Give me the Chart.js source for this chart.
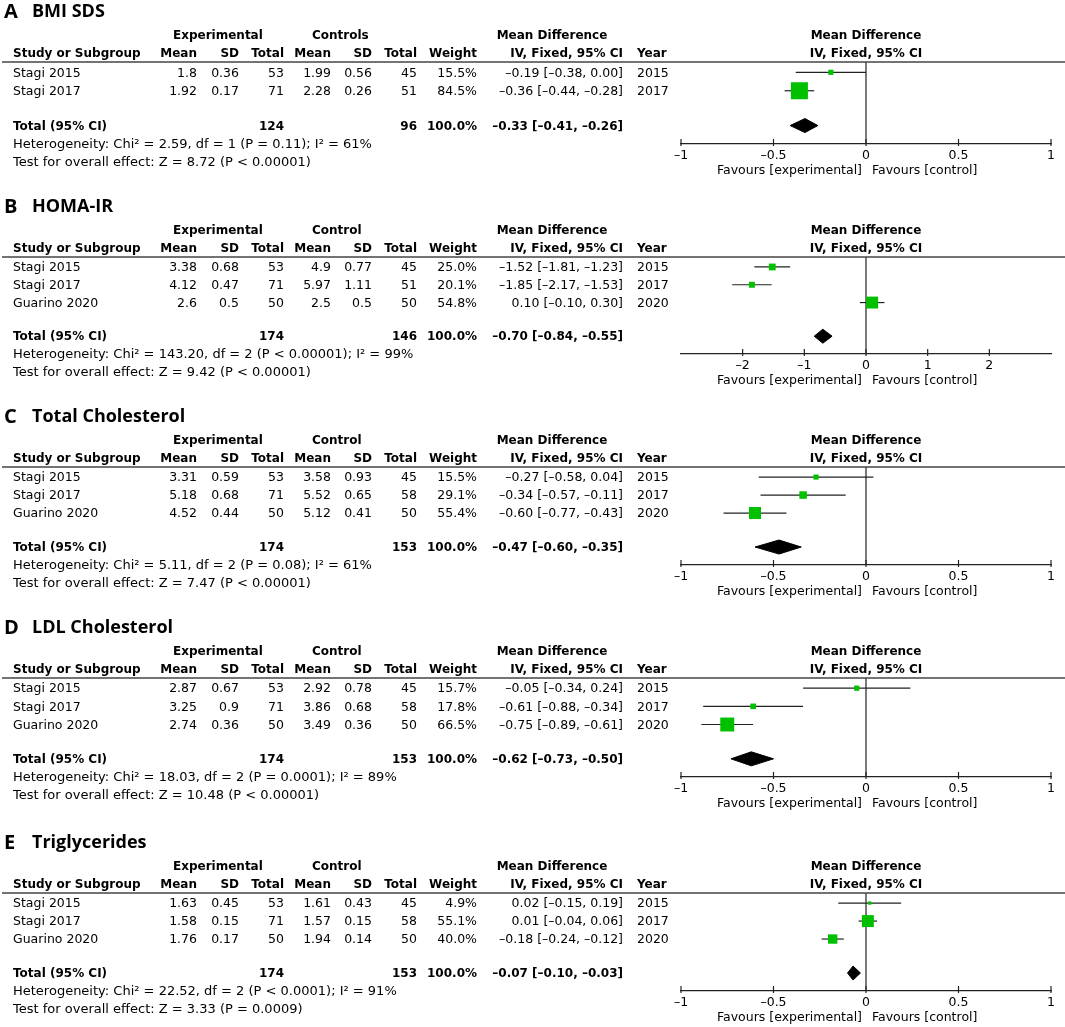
<!DOCTYPE html>
<html>
<head>
<meta charset="utf-8">
<script src="https://cdn.jsdelivr.net/npm/chart.js@4.4.1/dist/chart.umd.min.js"></script>
<style>
  body { margin: 0; background: #fff; width: 1065px; height: 1027px; position: relative; overflow: hidden; }
  canvas { position: absolute; left: 0; }
</style>
</head>
<body>
<script>
// ---- data ----
const studies2 = ['Stagi 2015', 'Stagi 2017'];
const studies3 = ['Stagi 2015', 'Stagi 2017', 'Guarino 2020'];
const years2 = [2015, 2017];
const years3 = [2015, 2017, 2020];

// A  BMI SDS
const bmiExpMean = [1.8, 1.92];
const bmiExpSD = [0.36, 0.17];
const bmiExpN = [53, 71];
const bmiCtlMean = [1.99, 2.28];
const bmiCtlSD = [0.56, 0.26];
const bmiCtlN = [45, 51];
const bmiWeight = [15.5, 84.5];
const bmiMD = [-0.19, -0.36];
const bmiLo = [-0.38, -0.44];
const bmiHi = [0.00, -0.28];
const bmiTotalN = [124, 96];
const bmiTotalMD = [-0.33, -0.41, -0.26];
const bmiHet = 'Heterogeneity: Chi² = 2.59, df = 1 (P = 0.11); I² = 61%';
const bmiTest = 'Test for overall effect: Z = 8.72 (P < 0.00001)';

// B  HOMA-IR
const homaExpMean = [3.38, 4.12, 2.6];
const homaExpSD = [0.68, 0.47, 0.5];
const homaExpN = [53, 71, 50];
const homaCtlMean = [4.9, 5.97, 2.5];
const homaCtlSD = [0.77, 1.11, 0.5];
const homaCtlN = [45, 51, 50];
const homaWeight = [25.0, 20.1, 54.8];
const homaMD = [-1.52, -1.85, 0.10];
const homaLo = [-1.81, -2.17, -0.10];
const homaHi = [-1.23, -1.53, 0.30];
const homaTotalN = [174, 146];
const homaTotalMD = [-0.70, -0.84, -0.55];
const homaHet = 'Heterogeneity: Chi² = 143.20, df = 2 (P < 0.00001); I² = 99%';
const homaTest = 'Test for overall effect: Z = 9.42 (P < 0.00001)';

// C  Total Cholesterol
const tcExpMean = [3.31, 5.18, 4.52];
const tcExpSD = [0.59, 0.68, 0.44];
const tcExpN = [53, 71, 50];
const tcCtlMean = [3.58, 5.52, 5.12];
const tcCtlSD = [0.93, 0.65, 0.41];
const tcCtlN = [45, 58, 50];
const tcWeight = [15.5, 29.1, 55.4];
const tcMD = [-0.27, -0.34, -0.60];
const tcLo = [-0.58, -0.57, -0.77];
const tcHi = [0.04, -0.11, -0.43];
const tcTotalN = [174, 153];
const tcTotalMD = [-0.47, -0.60, -0.35];
const tcHet = 'Heterogeneity: Chi² = 5.11, df = 2 (P = 0.08); I² = 61%';
const tcTest = 'Test for overall effect: Z = 7.47 (P < 0.00001)';

// D  LDL Cholesterol
const ldlExpMean = [2.87, 3.25, 2.74];
const ldlExpSD = [0.67, 0.9, 0.36];
const ldlExpN = [53, 71, 50];
const ldlCtlMean = [2.92, 3.86, 3.49];
const ldlCtlSD = [0.78, 0.68, 0.36];
const ldlCtlN = [45, 58, 50];
const ldlWeight = [15.7, 17.8, 66.5];
const ldlMD = [-0.05, -0.61, -0.75];
const ldlLo = [-0.34, -0.88, -0.89];
const ldlHi = [0.24, -0.34, -0.61];
const ldlTotalN = [174, 153];
const ldlTotalMD = [-0.62, -0.73, -0.50];
const ldlHet = 'Heterogeneity: Chi² = 18.03, df = 2 (P = 0.0001); I² = 89%';
const ldlTest = 'Test for overall effect: Z = 10.48 (P < 0.00001)';

// E  Triglycerides
const tgExpMean = [1.63, 1.58, 1.76];
const tgExpSD = [0.45, 0.15, 0.17];
const tgExpN = [53, 71, 50];
const tgCtlMean = [1.61, 1.57, 1.94];
const tgCtlSD = [0.43, 0.15, 0.14];
const tgCtlN = [45, 58, 50];
const tgWeight = [4.9, 55.1, 40.0];
const tgMD = [0.02, 0.01, -0.18];
const tgLo = [-0.15, -0.04, -0.24];
const tgHi = [0.19, 0.06, -0.12];
const tgTotalN = [174, 153];
const tgTotalMD = [-0.07, -0.10, -0.03];
const tgHet = 'Heterogeneity: Chi² = 22.52, df = 2 (P < 0.0001); I² = 91%';
const tgTest = 'Test for overall effect: Z = 3.33 (P = 0.0009)';

// axis ticks
const ticksUnit = [-1, -0.5, 0, 0.5, 1];
const ticksHoma = [-2, -1, 0, 1, 2];

// ---- layout / style ----
const INK = '#222';
const TXT = '#000';
const GREEN = '#00c000';
const FONT = '"DejaVu Sans"';
const AXH = 30;          // fixed height of the x axis box
const ROW0 = 0.56;       // first study row, in row units below the header rule
const DY = 1;            // nudge text down a touch
// column anchors (px)
const COL = { study: 13, expGroup: 173, ctlGroup: 312, expMean: 197, expSD: 239, expN: 284,
              ctlMean: 331, ctlSD: 372, ctlN: 417, weight: 477, ci: 623, ciHead: 552, year: 637 };

const panels = [
  { letter: 'A', name: 'BMI SDS', ctl: 'Controls', studies: studies2, years: years2,
    expMean: bmiExpMean, expSD: bmiExpSD, expN: bmiExpN, ctlMean: bmiCtlMean, ctlSD: bmiCtlSD, ctlN: bmiCtlN,
    weight: bmiWeight, md: bmiMD, lo: bmiLo, hi: bmiHi, totN: bmiTotalN, tot: bmiTotalMD,
    het: bmiHet, test: bmiTest, range: [-1, 1], ticks: ticksUnit, lineY: 62, axisY: 144 },
  { letter: 'B', name: 'HOMA-IR', ctl: 'Control', studies: studies3, years: years3,
    expMean: homaExpMean, expSD: homaExpSD, expN: homaExpN, ctlMean: homaCtlMean, ctlSD: homaCtlSD, ctlN: homaCtlN,
    weight: homaWeight, md: homaMD, lo: homaLo, hi: homaHi, totN: homaTotalN, tot: homaTotalMD,
    het: homaHet, test: homaTest, range: [-3, 3], ticks: ticksHoma, lineY: 257, axisY: 354 },
  { letter: 'C', name: 'Total Cholesterol', ctl: 'Control', studies: studies3, years: years3,
    expMean: tcExpMean, expSD: tcExpSD, expN: tcExpN, ctlMean: tcCtlMean, ctlSD: tcCtlSD, ctlN: tcCtlN,
    weight: tcWeight, md: tcMD, lo: tcLo, hi: tcHi, totN: tcTotalN, tot: tcTotalMD,
    het: tcHet, test: tcTest, range: [-1, 1], ticks: ticksUnit, lineY: 467, axisY: 565 },
  { letter: 'D', name: 'LDL Cholesterol', ctl: 'Control', studies: studies3, years: years3,
    expMean: ldlExpMean, expSD: ldlExpSD, expN: ldlExpN, ctlMean: ldlCtlMean, ctlSD: ldlCtlSD, ctlN: ldlCtlN,
    weight: ldlWeight, md: ldlMD, lo: ldlLo, hi: ldlHi, totN: ldlTotalN, tot: ldlTotalMD,
    het: ldlHet, test: ldlTest, range: [-1, 1], ticks: ticksUnit, lineY: 678, axisY: 777 },
  { letter: 'E', name: 'Triglycerides', ctl: 'Control', studies: studies3, years: years3,
    expMean: tgExpMean, expSD: tgExpSD, expN: tgExpN, ctlMean: tgCtlMean, ctlSD: tgCtlSD, ctlN: tgCtlN,
    weight: tgWeight, md: tgMD, lo: tgLo, hi: tgHi, totN: tgTotalN, tot: tgTotalMD,
    het: tgHet, test: tgTest, range: [-1, 1], ticks: ticksUnit, lineY: 893, axisY: 991 },
];

// ---- helpers ----
const dash = s => String(s).replace(/-/g, '\u2013');
const ciText = (m, l, h) => dash(m.toFixed(2)) + ' [' + dash(l.toFixed(2)) + ', ' + dash(h.toFixed(2)) + ']';

function put(ctx, s, x, y, align, bold, size) {
  ctx.font = (bold ? 'bold ' : '') + (size || (bold ? 12 : 12.5)) + 'px ' + FONT;
  ctx.textAlign = align;
  ctx.fillText(s, x, y + DY);
}

function tablePlugin(p) {
  return {
    id: 'table' + p.letter,
    afterDraw(chart) {
      const { ctx, chartArea: a, scales: { x, y } } = chart;
      ctx.save();
      ctx.fillStyle = TXT;
      ctx.textBaseline = 'middle';

      // panel title
      ctx.textAlign = 'left';
      ctx.font = 'bold 20px "Open Sans"';
      ctx.fillText(p.letter, 4, a.top - 50);
      ctx.font = 'bold 18px "Open Sans"';
      ctx.fillText(p.name, 32, a.top - 50);

      // column headers
      const h1 = a.top - 27, h2 = a.top - 9, mid = (a.left + a.right) / 2;
      put(ctx, 'Experimental', COL.expGroup, h1, 'left', true);
      put(ctx, p.ctl, COL.ctlGroup, h1, 'left', true);
      put(ctx, 'Mean Difference', COL.ciHead, h1, 'center', true);
      put(ctx, 'Mean Difference', mid, h1, 'center', true);
      put(ctx, 'Study or Subgroup', COL.study, h2, 'left', true);
      put(ctx, 'Mean', COL.expMean, h2, 'right', true);
      put(ctx, 'SD', COL.expSD, h2, 'right', true);
      put(ctx, 'Total', COL.expN, h2, 'right', true);
      put(ctx, 'Mean', COL.ctlMean, h2, 'right', true);
      put(ctx, 'SD', COL.ctlSD, h2, 'right', true);
      put(ctx, 'Total', COL.ctlN, h2, 'right', true);
      put(ctx, 'Weight', COL.weight, h2, 'right', true);
      put(ctx, 'IV, Fixed, 95% CI', COL.ci, h2, 'right', true);
      put(ctx, 'Year', COL.year, h2, 'left', true);
      put(ctx, 'IV, Fixed, 95% CI', mid, h2, 'center', true);

      // header rule
      ctx.strokeStyle = '#444';
      ctx.lineWidth = 1.5;
      ctx.beginPath();
      ctx.moveTo(2, a.top);
      ctx.lineTo(1065, a.top);
      ctx.stroke();

      // study rows
      p.studies.forEach((s, i) => {
        const yy = y.getPixelForValue(i + ROW0);
        put(ctx, s, COL.study, yy, 'left');
        put(ctx, String(p.expMean[i]), COL.expMean, yy, 'right');
        put(ctx, String(p.expSD[i]), COL.expSD, yy, 'right');
        put(ctx, String(p.expN[i]), COL.expN, yy, 'right');
        put(ctx, String(p.ctlMean[i]), COL.ctlMean, yy, 'right');
        put(ctx, String(p.ctlSD[i]), COL.ctlSD, yy, 'right');
        put(ctx, String(p.ctlN[i]), COL.ctlN, yy, 'right');
        put(ctx, p.weight[i].toFixed(1) + '%', COL.weight, yy, 'right');
        put(ctx, ciText(p.md[i], p.lo[i], p.hi[i]), COL.ci, yy, 'right');
        put(ctx, String(p.years[i]), COL.year, yy, 'left');
      });

      // total row
      const ty = y.getPixelForValue(p.studies.length + ROW0 + 0.89);
      put(ctx, 'Total (95% CI)', COL.study, ty, 'left', true);
      put(ctx, String(p.totN[0]), COL.expN, ty, 'right', true);
      put(ctx, String(p.totN[1]), COL.ctlN, ty, 'right', true);
      put(ctx, '100.0%', COL.weight, ty, 'right', true);
      put(ctx, ciText(p.tot[0], p.tot[1], p.tot[2]), COL.ci, ty, 'right', true);

      // heterogeneity + overall effect
      put(ctx, p.het, COL.study, a.bottom, 'left', false, 13);
      put(ctx, p.test, COL.study, a.bottom + 18, 'left', false, 13);

      // inward tick marks on the x axis
      ctx.strokeStyle = INK;
      ctx.lineWidth = 1.2;
      x.ticks.forEach(t => {
        const px = x.getPixelForValue(t.value);
        ctx.beginPath();
        ctx.moveTo(px, a.bottom + 2);
        ctx.lineTo(px, a.bottom - 5);
        ctx.stroke();
      });

      // favours labels split at zero
      const x0 = x.getPixelForValue(0);
      put(ctx, 'Favours [experimental]', x0 - 4, a.bottom + 26, 'right');
      put(ctx, 'Favours [control]', x0 + 6, a.bottom + 26, 'left');
      ctx.restore();
    }
  };
}

function makePanel(p) {
  const top = p.lineY - 66;
  const height = (p.axisY - p.lineY) + 66 + 40;
  const cv = document.createElement('canvas');
  cv.width = 1065;
  cv.height = height;
  cv.style.top = top + 'px';
  document.body.appendChild(cv);

  const n = p.studies.length;
  const yMax = n + 2.45;
  const totY = n + ROW0 + 0.89;
  const dh = 7 * yMax / (p.axisY - p.lineY); // diamond half height, in row units

  const datasets = [];
  // study squares, side grows with weight
  datasets.push({
    type: 'scatter',
    data: p.md.map((v, i) => ({ x: v, y: i + ROW0 })),
    pointStyle: 'rect',
    pointRadius: p.weight.map(w => (2.5 + 0.172 * w) / Math.SQRT2),
    backgroundColor: GREEN,
    borderWidth: 0
  });
  // pooled diamond
  datasets.push({
    type: 'line',
    data: [
      { x: p.tot[1], y: totY }, { x: p.tot[0], y: totY - dh },
      { x: p.tot[2], y: totY }, { x: p.tot[0], y: totY + dh }, { x: p.tot[1], y: totY }
    ],
    fill: 'shape',
    backgroundColor: '#000',
    borderColor: '#000',
    borderWidth: 1,
    pointRadius: 0,
    tension: 0
  });
  // confidence intervals
  p.lo.forEach((lo, i) => {
    datasets.push({
      type: 'line',
      data: [{ x: lo, y: i + ROW0 }, { x: p.hi[i], y: i + ROW0 }],
      borderColor: INK,
      borderWidth: 1.2,
      pointRadius: 0
    });
  });
  // line of no effect
  datasets.push({
    type: 'line',
    data: [{ x: 0, y: 0 }, { x: 0, y: yMax }],
    borderColor: INK,
    borderWidth: 1.2,
    pointRadius: 0
  });

  new Chart(cv, {
    type: 'scatter',
    data: { datasets },
    options: {
      responsive: false,
      animation: false,
      events: [],
      layout: {
        padding: { left: 681, right: 14, top: p.lineY - top, bottom: height - (p.axisY - top) - AXH }
      },
      plugins: { legend: { display: false }, tooltip: { enabled: false } },
      scales: {
        x: {
          type: 'linear',
          min: p.range[0],
          max: p.range[1],
          afterBuildTicks: s => { s.ticks = p.ticks.map(v => ({ value: v })); },
          afterFit: s => { s.height = AXH; },
          grid: { display: false, drawTicks: false },
          border: { display: true, color: INK, width: 1.2 },
          ticks: {
            padding: 4,
            color: TXT,
            font: { family: FONT, size: 12.5 },
            autoSkip: false,
            maxRotation: 0,
            callback: v => dash(v)
          }
        },
        y: { type: 'linear', display: false, min: 0, max: yMax, reverse: true }
      }
    },
    plugins: [tablePlugin(p)]
  });
}

panels.forEach(makePanel);
</script>
</body>
</html>
